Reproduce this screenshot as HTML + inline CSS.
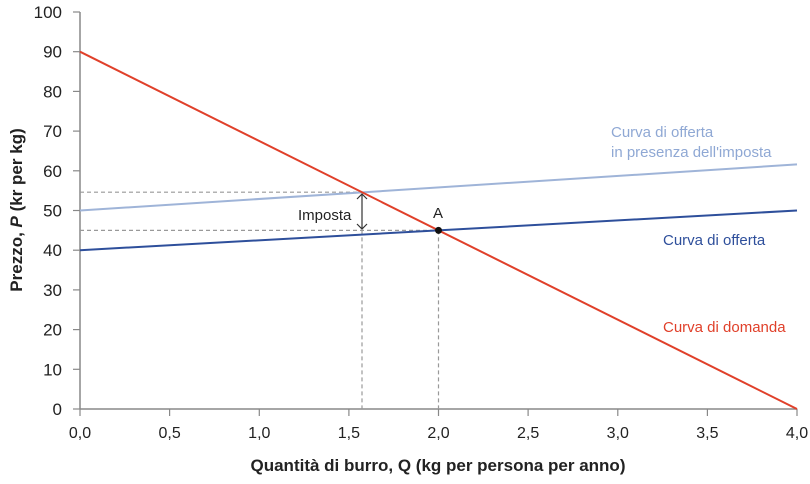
<!DOCTYPE html>
<html><head><meta charset="utf-8"><style>
body{margin:0;background:#fff}
text{font-family:"Liberation Sans",sans-serif}
</style></head><body>
<svg width="810" height="479" viewBox="0 0 810 479" xmlns="http://www.w3.org/2000/svg">
<g stroke="#888" stroke-width="1.5">
<line x1="80" y1="12" x2="80" y2="409"/>
<line x1="80" y1="409" x2="797" y2="409"/>
</g>
<g stroke="#888" stroke-width="1.2">
<line x1="73" y1="12" x2="80" y2="12"/><line x1="73" y1="51.7" x2="80" y2="51.7"/><line x1="73" y1="91.4" x2="80" y2="91.4"/><line x1="73" y1="131.1" x2="80" y2="131.1"/><line x1="73" y1="170.8" x2="80" y2="170.8"/><line x1="73" y1="210.5" x2="80" y2="210.5"/><line x1="73" y1="250.2" x2="80" y2="250.2"/><line x1="73" y1="289.9" x2="80" y2="289.9"/><line x1="73" y1="329.6" x2="80" y2="329.6"/><line x1="73" y1="369.3" x2="80" y2="369.3"/><line x1="73" y1="409" x2="80" y2="409"/>
<line x1="80" y1="409" x2="80" y2="416"/><line x1="169.6" y1="409" x2="169.6" y2="416"/><line x1="259.3" y1="409" x2="259.3" y2="416"/><line x1="348.9" y1="409" x2="348.9" y2="416"/><line x1="438.5" y1="409" x2="438.5" y2="416"/><line x1="528.1" y1="409" x2="528.1" y2="416"/><line x1="617.8" y1="409" x2="617.8" y2="416"/><line x1="707.4" y1="409" x2="707.4" y2="416"/><line x1="797" y1="409" x2="797" y2="416"/>
</g>
<g font-size="17" fill="#222" text-anchor="end">
<text x="62" y="18">100</text><text x="62" y="57.7">90</text><text x="62" y="97.4">80</text><text x="62" y="137.1">70</text><text x="62" y="176.8">60</text><text x="62" y="216.5">50</text><text x="62" y="256.2">40</text><text x="62" y="295.9">30</text><text x="62" y="335.6">20</text><text x="62" y="375.3">10</text><text x="62" y="415">0</text>
</g>
<g font-size="16" fill="#222" text-anchor="middle">
<text x="80" y="438">0,0</text><text x="169.6" y="438">0,5</text><text x="259.3" y="438">1,0</text><text x="348.9" y="438">1,5</text><text x="438.5" y="438">2,0</text><text x="528.1" y="438">2,5</text><text x="617.8" y="438">3,0</text><text x="707.4" y="438">3,5</text><text x="797" y="438">4,0</text>
</g>
<text x="438" y="471" font-size="17" font-weight="bold" fill="#222" text-anchor="middle">Quantità di burro, Q (kg per persona per anno)</text>
<text transform="translate(22,210) rotate(-90)" font-size="17" font-weight="bold" fill="#222" text-anchor="middle">Prezzo, <tspan font-style="italic">P</tspan> (kr per kg)</text>
<g stroke="#999" stroke-width="1.2" stroke-dasharray="4,3" fill="none">
<line x1="80" y1="192.2" x2="362" y2="192.2"/>
<line x1="80" y1="230.4" x2="438.5" y2="230.4"/>
<line x1="362" y1="230.4" x2="362" y2="409"/>
<line x1="438.5" y1="230.4" x2="438.5" y2="409"/>
</g>
<g stroke="#333" stroke-width="1.2" fill="none">
<line x1="362" y1="194" x2="362" y2="229"/>
<path d="M357,199 L362,194 L367,199"/>
<path d="M357,224 L362,229 L367,224"/>
</g>
<line x1="80" y1="250.2" x2="797" y2="210.5" stroke="#2e4f9b" stroke-width="2"/>
<line x1="80" y1="210.5" x2="797" y2="164.4" stroke="#9fb4d8" stroke-width="2"/>
<line x1="80" y1="51.7" x2="797" y2="409" stroke="#e0402a" stroke-width="2"/>
<circle cx="438.5" cy="230.4" r="3.5" fill="#111"/>
<text x="438" y="218" font-size="15" fill="#222" text-anchor="middle">A</text>
<text x="298" y="220" font-size="15" fill="#222">Imposta</text>
<text x="611" y="137" font-size="15" fill="#8fa8d4">Curva di offerta</text>
<text x="611" y="157" font-size="15" fill="#8fa8d4">in presenza dell'imposta</text>
<text x="663" y="245" font-size="15" fill="#2e4f9b">Curva di offerta</text>
<text x="663" y="332" font-size="15" fill="#e0402a">Curva di domanda</text>
</svg>
</body></html>
